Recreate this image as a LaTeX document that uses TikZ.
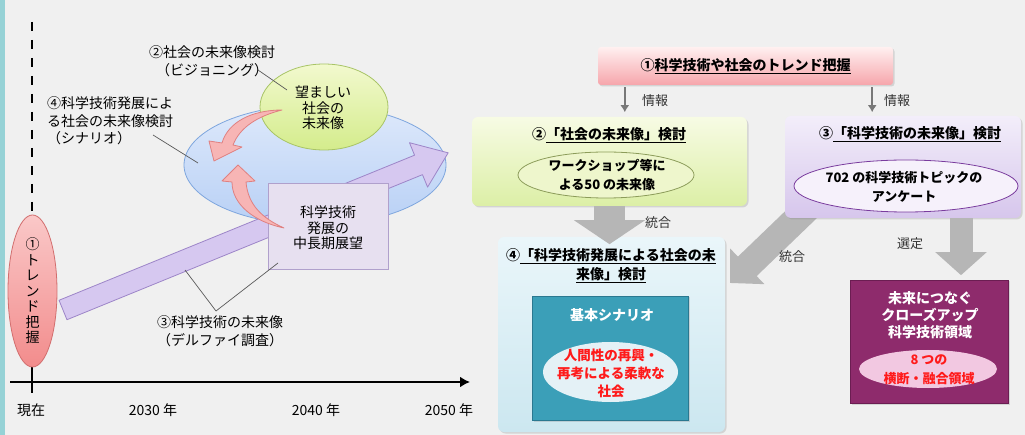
\documentclass[tikz,border=0pt]{standalone}
\usepackage{fontspec}
\setmainfont{Noto Sans CJK JP}
\usetikzlibrary{arrows.meta,shapes.geometric,shadows,calc}

\definecolor{paper}{RGB}{240,240,240}
\definecolor{sidebar}{RGB}{150,210,214}
\definecolor{pinkTop}{RGB}{250,200,200}
\definecolor{pinkBot}{RGB}{242,140,140}
\definecolor{pinkLine}{RGB}{210,110,110}
\definecolor{blueTop}{RGB}{222,233,251}
\definecolor{blueBot}{RGB}{184,208,245}
\definecolor{blueLine}{RGB}{126,166,222}
\definecolor{limeTop}{RGB}{242,249,206}
\definecolor{limeBot}{RGB}{212,236,140}
\definecolor{limeLine}{RGB}{168,196,102}
\definecolor{lavFill}{RGB}{231,224,240}
\definecolor{lavLine}{RGB}{176,160,204}
\definecolor{violetFill}{RGB}{214,200,240}
\definecolor{violetLine}{RGB}{157,133,200}
\definecolor{flowPink}{RGB}{247,181,181}
\definecolor{flowPinkLine}{RGB}{224,128,128}
\definecolor{trendTop}{RGB}{255,240,240}
\definecolor{trendBot}{RGB}{246,165,171}
\definecolor{wsTop}{RGB}{247,251,228}
\definecolor{wsBot}{RGB}{220,239,166}
\definecolor{wsEll}{RGB}{238,246,204}
\definecolor{wsLine}{RGB}{140,156,90}
\definecolor{dpTop}{RGB}{243,238,250}
\definecolor{dpBot}{RGB}{214,198,236}
\definecolor{dpEll}{RGB}{246,241,251}
\definecolor{dpLine}{RGB}{122,60,158}
\definecolor{scTop}{RGB}{234,246,250}
\definecolor{scBot}{RGB}{204,231,240}
\definecolor{tealFill}{RGB}{59,159,184}
\definecolor{tealLine}{RGB}{42,120,144}
\definecolor{scEll}{RGB}{228,241,246}
\definecolor{magFill}{RGB}{142,43,108}
\definecolor{magLine}{RGB}{107,29,82}
\definecolor{magEll}{RGB}{242,200,225}
\definecolor{hotRed}{RGB}{255,26,26}
\definecolor{blockGray}{RGB}{182,182,182}
\definecolor{infoGray}{RGB}{120,120,120}

\tikzset{
  leader/.style={draw=black!65, line width=0.7pt},
  yearlbl/.style={font=\fontsize{14}{16}\selectfont, inner sep=0pt},
  sidelbl/.style={font=\fontsize{14}{17.5}\selectfont, inner sep=0pt},
  plainlbl/.style={font=\fontsize{13}{15}\selectfont, text=black!80, inner sep=0pt},
  headtxt/.style={font=\fontsize{14}{19}\selectfont\bfseries, align=center, inner sep=0pt},
  bodytxt/.style={font=\fontsize{13}{19}\selectfont\bfseries, align=center, inner sep=0pt},
  softshadow/.style={drop shadow={shadow xshift=1.5pt, shadow yshift=-1.5pt, opacity=0.25}},
  flowbox/.style={rounded corners=6pt, inner sep=0pt, softshadow},
  oval/.style={ellipse, inner sep=0pt},
  bigarrow/.style={draw=blockGray},
  infoarrow/.style={draw=infoGray, line width=2pt, -{Latex[length=7pt,width=9pt]}},
  flowarrow/.style={fill=flowPink, draw=flowPinkLine, line width=0.8pt, line join=round}
}

\begin{document}
\begin{tikzpicture}[x=1pt,y=-1pt]
  \useasboundingbox (0,0) rectangle (1025,435);
  \fill[paper] (0,0) rectangle (1025,435);
  \fill[sidebar] (0,0) rectangle (5,435);

  %%%%% TIMELINE %%%%%
  \draw[line width=2.6pt, dash pattern=on 9pt off 9pt] (32,22) -- (32,215);
  \draw[line width=2.6pt] (32,360) -- (32,393);
  \coordinate (axisL) at (10,382);
  \coordinate (axisR) at (470,382);
  \draw[line width=2.6pt, -{Latex[length=10pt,width=11pt]}] (axisL) -- (axisR);

  \node[yearlbl] (yNow) at (31,410) {現在};
  \node[yearlbl] (y2030) at (153,410) {2030 年};
  \node[yearlbl] (y2040) at (316,410) {2040 年};
  \node[yearlbl] (y2050) at (449,410) {2050 年};

  \node[oval, minimum width=49, minimum height=152, top color=pinkTop, bottom color=pinkBot,
        draw=pinkLine, line width=0.8pt, align=center,
        font=\fontsize{14}{15.5}\selectfont] (trendV) at (32.5,291) {①\\ト\\レ\\ン\\ド\\把\\握};

  %%%%% SCENARIO PICTURE %%%%%
  \node[oval, minimum width=262, minimum height=120, top color=blueTop, bottom color=blueBot,
        draw=blueLine, line width=0.8pt] (scenEll) at (315,165) {};

  \begin{scope}[shift={(63,310)}, rotate=22.2]
    \filldraw[fill=violetFill, draw=violetLine, line width=0.8pt, line join=round]
      (0,-10.5) -- (384,-10.5) -- (384,-24) -- (416,0) -- (384,24) -- (384,10.5) -- (0,10.5) -- cycle;
  \end{scope}

  \node[oval, minimum width=128, minimum height=86, top color=limeTop, bottom color=limeBot,
        draw=limeLine, line width=0.8pt] (goodEll) at (324,107) {};
  \node[sidelbl, align=center, font=\fontsize{14}{15.5}\selectfont] (goodTxt) at (323,108) {望ましい\\社会の\\未来像};

  \node[draw=lavLine, fill=lavFill, line width=0.8pt, minimum width=120, minimum height=86,
        inner sep=0pt] (outlook) at (328,226) {};
  \node[sidelbl, align=center, font=\fontsize{14}{15.5}\selectfont] (outlookTxt) at (328,228) {科学技術\\発展の\\中長期展望};

  \filldraw[flowarrow] (282,110) .. controls (252,110) and (228,122) .. (222,143)
    -- (209,141) -- (214,161) -- (242,147) -- (233,145)
    .. controls (240,127) and (258,116) .. (282,110) -- cycle;
  \filldraw[flowarrow] (284,228) .. controls (255,222) and (232,205) .. (232,182)
    -- (222,181) -- (238,165) -- (255,181) -- (246,182)
    .. controls (248,205) and (262,218) .. (284,228) -- cycle;

  %%%%% SIDE LABELS %%%%%
  \node[sidelbl, align=center, font=\fontsize{14}{18}\selectfont] (visLbl) at (212,61) {②社会の未来像検討\\（ビジョニング）};
  \node[sidelbl, align=left, anchor=west] (scenLbl) at (47,121) {④科学技術発展によ\\る社会の未来像検討\\（シナリオ）};
  \node[sidelbl, align=center] (delLbl) at (220,331) {③科学技術の未来像\\（デルファイ調査）};

  \coordinate (visA) at (258,70);
  \coordinate (visB) at (287,90);
  \coordinate (scenA) at (153,135);
  \coordinate (scenB) at (198,163);
  \coordinate (delA) at (185,270);
  \coordinate (delM) at (216,311);
  \coordinate (delB) at (278,263);
  \draw[leader] (visA) -- (visB);
  \draw[leader] (scenA) -- (scenB);
  \draw[leader] (delA) -- (delM) -- (delB);

  %%%%% FLOW CHART %%%%%
  \node[flowbox, rounded corners=3pt, minimum width=295, minimum height=38, top color=trendTop,
        bottom color=trendBot, headtxt] (trend) at (745.5,66) {①\underline{科学技術や社会のトレンド把握}};

  \node[flowbox, minimum width=275, minimum height=89, top color=wsTop, bottom color=wsBot] (boxB) at (609.5,161.5) {};
  \node[headtxt] (headB) at (609,135) {②\underline{「社会の未来像」検討}};
  \node[oval, minimum width=176, minimum height=46, fill=wsEll, draw=wsLine, line width=0.8pt] (ellB) at (606,175) {};
  \node[bodytxt] (ellBTxt) at (607,175) {ワークショップ等に\\よる50 の未来像};

  \node[flowbox, minimum width=227, minimum height=195, top color=scTop, bottom color=scBot] (boxD) at (611.5,334.5) {};
  \node[headtxt] (headD) at (611,266) {④\underline{「科学技術発展による社会の未}\\\underline{来像」検討}};
  \node[draw=tealLine, fill=tealFill, line width=0.8pt, minimum width=156, minimum height=124,
        inner sep=0pt, softshadow] (teal) at (610,358) {};
  \node[headtxt, text=white] (tealTxt) at (612,315) {基本シナリオ};
  \node[oval, minimum width=135, minimum height=60, fill=scEll] (ellD) at (610.5,372) {};
  \node[headtxt, text=hotRed, font=\fontsize{13.5}{18}\selectfont\bfseries] (ellDTxt) at (611,373) {人間性の再興・\\再考による柔軟な\\社会};

  \node[draw=magLine, fill=magFill, line width=0.8pt, minimum width=158, minimum height=123,
        inner sep=0pt, softshadow] (closeup) at (929,341.5) {};
  \node[headtxt, text=white, font=\fontsize{14}{17}\selectfont\bfseries] (closeTxt) at (930,315) {未来につなぐ\\クローズアップ\\科学技術領域};
  \node[oval, minimum width=138, minimum height=38, fill=magEll] (ellE) at (928,369) {};
  \node[bodytxt, text=hotRed] (ellETxt) at (929,370) {8 つの\\横断・融合領域};

  \draw[bigarrow, line width=27pt, -{Triangle[length=24pt,width=48pt]}] (810,206) -- (730,283);

  \node[flowbox, minimum width=236, minimum height=102, top color=dpTop, bottom color=dpBot] (boxC) at (903,167) {};
  \node[headtxt] (headC) at (910,134) {③\underline{「科学技術の未来像」検討}};
  \node[oval, minimum width=224, minimum height=52, fill=dpEll, draw=dpLine, line width=0.8pt] (ellC) at (906,186) {};
  \node[bodytxt] (ellCTxt) at (904,187) {702 の科学技術トピックの\\アンケート};

  \draw[bigarrow, line width=31pt, -{Triangle[length=24pt,width=70pt]}] (boxB.south) -- ++(0,38);
  \draw[bigarrow, line width=23pt, -{Triangle[length=23pt,width=50pt]}] ($(boxC.south)+(58,0)$) -- ++(0,57);

  \draw[infoarrow] (trend.south west) ++(27,2) -- ++(0,25);
  \draw[infoarrow] (trend.south east) ++(-21,2) -- ++(0,25);

  \node[plainlbl] (infoL) at (655,101) {情報};
  \node[plainlbl] (infoR) at (897,101) {情報};
  \node[plainlbl] (mergeB) at (658,223) {統合};
  \node[plainlbl] (mergeC) at (792,257) {統合};
  \node[plainlbl] (pick) at (910,244) {選定};
\end{tikzpicture}
\end{document}
